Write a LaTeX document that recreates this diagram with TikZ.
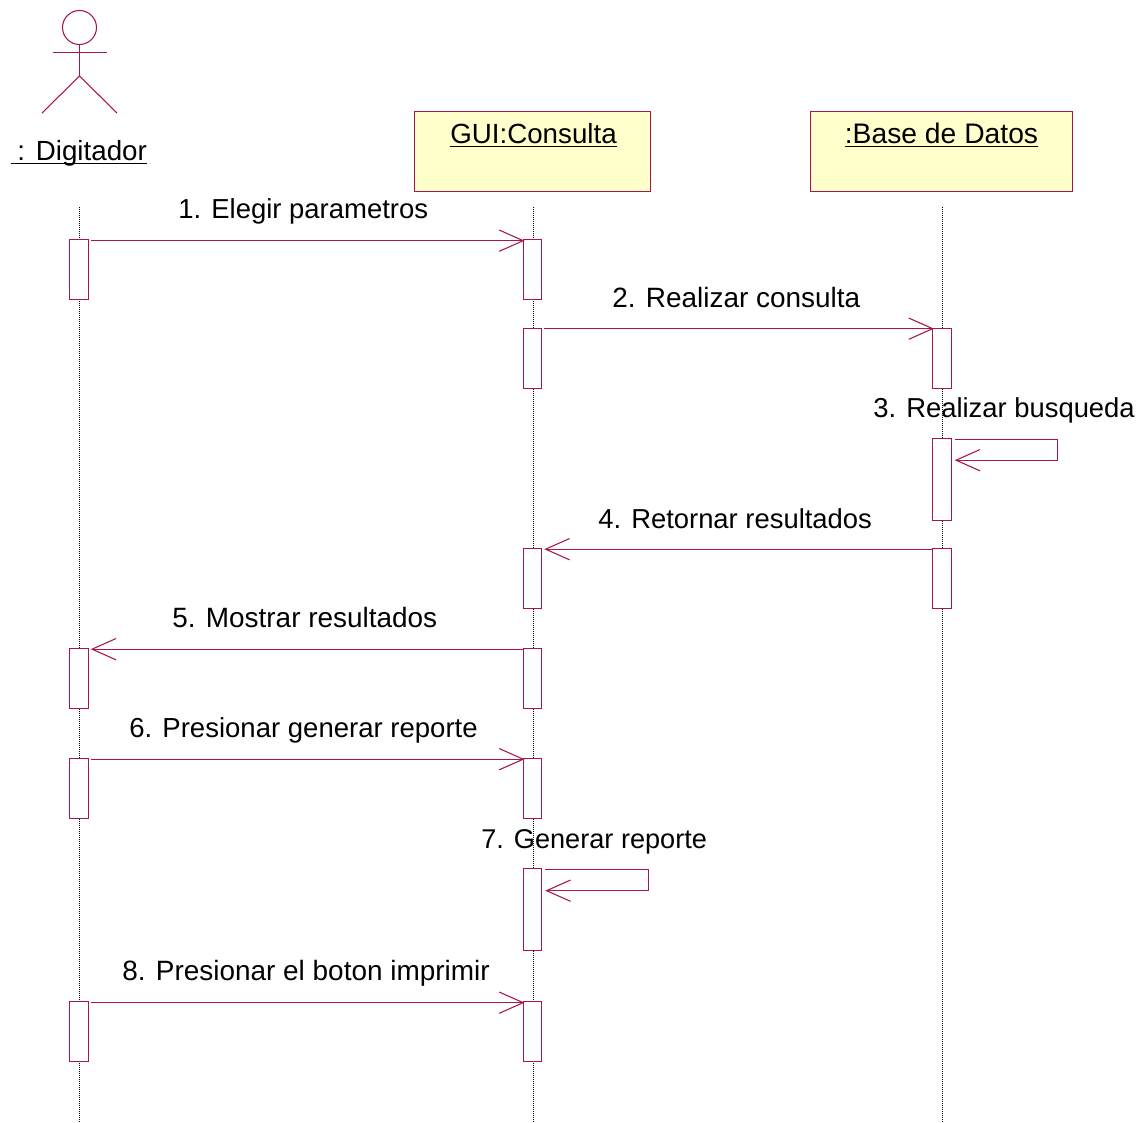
\documentclass[tikz,border=0pt]{standalone}
\usepackage{fontspec}
\setmainfont{Liberation Sans}
\usetikzlibrary{arrows.meta}
\definecolor{rose}{RGB}{170,20,75}
\definecolor{notey}{RGB}{255,255,204}
\newcommand\ulinetext[1]{\setbox0=\hbox{#1}\rlap{\rule[-3.1pt]{\wd0}{1.1pt}}\box0}
\tikzset{
  x=0.75pt,y=-0.75pt,
  umlline/.style={draw=rose,line width=0.8pt},
  objbox/.style={umlline,fill=notey,rectangle,inner sep=0pt,anchor=north west},
  actbox/.style={umlline,fill=white,rectangle,inner sep=0pt,anchor=north west,minimum width=14pt},
  lifeline/.style={black,line width=0.4pt,dash pattern=on 0.75pt off 0.75pt},
  msg/.style={umlline,-{Straight Barb[length=18pt,width=16pt,line width=0.8pt]}},
  lbl/.style={anchor=base west,inner sep=0pt,font=\fontsize{#1}{24}\selectfont},
  ttl/.style={anchor=base,inner sep=0pt,font=\fontsize{#1}{24}\selectfont},
}
\begin{document}
\begin{tikzpicture}
\useasboundingbox (0,0) rectangle (1146,1122);
% actor
\node[umlline,circle,inner sep=0pt,minimum size=25.5pt] (head) at (79.5,27.5) {};
\coordinate (hip) at (79.5,76);
\coordinate (armL) at (52.5,52.5);
\coordinate (armR) at (107,52.5);
\coordinate (footL) at (42,113);
\coordinate (footR) at (117,113);
\draw[umlline] (head.south) -- (hip);
\draw[umlline] (armL) -- (armR);
\draw[umlline] (footL) -- (hip) -- (footR);
\node[ttl=20.8,anchor=base west] (digi) at (11,160) {\ulinetext{\hphantom{i}:\hphantom{i}\,Digitador}};
% objects
\node[objbox,minimum width=177pt,minimum height=60pt] (gui) at (414,111) {};
\node[ttl=20.8] (guit) at (533.5,143) {\ulinetext{GUI:Consulta}};
\node[objbox,minimum width=196.5pt,minimum height=60pt] (base) at (810,111) {};
\node[ttl=21.2] (baset) at (941.5,143) {\ulinetext{:Base de Datos}};
% lifelines
\coordinate (la) at (79.5,207); \coordinate (lae) at (79.5,1122);
\coordinate (lb) at (533.5,207); \coordinate (lbe) at (533.5,1122);
\coordinate (lc) at (942.5,207); \coordinate (lce) at (942.5,1122);
\draw[lifeline] (la) -- (lae);
\draw[lifeline] (lb) -- (lbe);
\draw[lifeline] (lc) -- (lce);
% activations
\foreach \n/\px/\py/\h in {a1/69/239.5/45,b1/522.5/239.5/45,b2/522.5/328/45,c2/932/328/45,c3/932/438.5/61,c4/932/548.5/45,b4/522.5/548.5/45,b5/522.5/648.5/45,a5/69/648.5/45,a6/69/758.5/45,b6/522.5/758.5/45,b7/522.5/868.5/61,b8/522.5/1001.5/45,a8/69/1001.5/45}
  \node[actbox,minimum height=\h pt,yshift=0.25pt] (\n) at (\px,\py) {};
% messages
\draw[msg] ([shift={(2,1.5)}]a1.north east) -- ([shift={(2,1.5)}]b1.north west);
\draw[msg] ([shift={(2,1)}]b2.north east) -- ([shift={(2,1)}]c2.north west);
\draw[umlline] ([shift={(3,1)}]c3.north east) -- ++(103,0) -- ++(0,21) coordinate (c3r);
\draw[msg] (c3r) -- ([shift={(3,22)}]c3.north east);
\draw[msg] ([shift={(0,1)}]c4.north west) -- ([shift={(2,1)}]b4.north east);
\draw[msg] ([shift={(0,1)}]b5.north west) -- ([shift={(2,1)}]a5.north east);
\draw[msg] ([shift={(2,1)}]a6.north east) -- ([shift={(2,1)}]b6.north west);
\draw[umlline] ([shift={(3,1.5)}]b7.north east) -- ++(103,0) -- ++(0,21) coordinate (b7r);
\draw[msg] (b7r) -- ([shift={(3,22.5)}]b7.north east);
\draw[msg] ([shift={(2,1.5)}]a8.north east) -- ([shift={(2,1.5)}]b8.north west);
% labels
\node[lbl=20.6] (m1) at (178,218) {1. Elegir parametros};
\node[lbl=20.95] (m2) at (612,307) {2. Realizar consulta};
\node[lbl=20.55] (m3) at (873,417) {3. Realizar busqueda};
\node[lbl=20.55] (m4) at (598,528) {4. Retornar resultados};
\node[lbl=20.95] (m5) at (172,627) {5. Mostrar resultados};
\node[lbl=20.65] (m6) at (129,737) {6. Presionar generar reporte};
\node[lbl=20.35] (m7) at (481,848) {7. Generar reporte};
\node[lbl=20.95] (m8) at (122,980) {8. Presionar el boton imprimir};
\end{tikzpicture}
\end{document}
